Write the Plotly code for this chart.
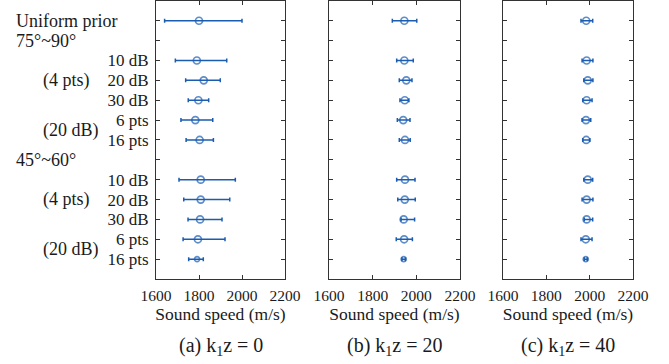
import plotly.graph_objects as go

# Row labels (top to bottom); rows 2 and 8 are group headers without data
rows = list(range(1, 14))
row_tick_text = ["", "", "10 dB", "20 dB", "30 dB", "6 pts", "16 pts",
                 "", "10 dB", "20 dB", "30 dB", "6 pts", "16 pts"]

# Estimated sound speed (m/s): centre, lower and upper bound of each interval
k0_mean = [1800, None, 1790, 1822, 1797, 1783, 1803, None, 1808, 1808, 1805, 1795, 1791]
k0_low  = [1640, None, 1690, 1738, 1750, 1716, 1740, None, 1707, 1729, 1749, 1726, 1752]
k0_high = [2000, None, 1929, 1899, 1845, 1864, 1867, None, 1969, 1943, 1907, 1921, 1820]

k20_mean = [1945, None, 1945, 1954, 1947, 1940, 1948, None, 1948, 1947, 1942, 1944, 1942]
k20_low  = [1890, None, 1910, 1922, 1925, 1913, 1922, None, 1910, 1915, 1930, 1908, 1934]
k20_high = [2002, None, 1986, 1980, 1966, 1971, 1972, None, 1994, 1995, 1992, 1982, 1950]

k40_mean = [1984, None, 1986, 1991, 1986, 1983, 1984, None, 1991, 1986, 1986, 1982, 1982]
k40_low  = [1960, None, 1965, 1973, 1968, 1965, 1968, None, 1973, 1965, 1975, 1960, 1975]
k40_high = [2014, None, 2015, 2015, 2011, 2005, 2001, None, 2014, 2015, 2014, 2011, 1989]

panels = [
    ("(a) k<sub>1</sub>z = 0", k0_mean, k0_low, k0_high),
    ("(b) k<sub>1</sub>z = 20", k20_mean, k20_low, k20_high),
    ("(c) k<sub>1</sub>z = 40", k40_mean, k40_low, k40_high),
]

x_ticks = [1600, 1800, 2000, 2200]
x_title = "Sound speed (m/s)"

W, H = 669, 364
domains = [(156 / W, 285 / W), (329 / W, 460 / W), (503 / W, 633 / W)]

BLUE = "#1a5cb0"
FRAME = "#333333"
TEXT = "#1a1a1a"
FONT = "Liberation Serif"

fig = go.Figure()

for i, (caption, mean, low, high) in enumerate(panels):
    n = i + 1
    xa = "x" if n == 1 else f"x{n}"
    ya = "y" if n == 1 else f"y{n}"
    plus = [None if m is None else h - m for m, h in zip(mean, high)]
    minus = [None if m is None else m - l for m, l in zip(mean, low)]
    sizes = [7] * 12 + [5]
    fig.add_trace(go.Scatter(
        x=mean, y=rows, xaxis=xa, yaxis=ya, mode="markers",
        marker=dict(symbol="circle-open", size=sizes, color=BLUE,
                    line=dict(width=1.7, color=BLUE)),
        error_x=dict(type="data", symmetric=False, array=plus, arrayminus=minus,
                     color=BLUE, thickness=1.5, width=2),
        showlegend=False, hoverinfo="x+y",
    ))
    axis_common = dict(showline=True, linecolor=FRAME, linewidth=1.2, mirror="ticks",
                       ticks="inside", ticklen=4, tickcolor=FRAME, tickwidth=1,
                       showgrid=False, zeroline=False)
    fig.layout[f"xaxis{'' if n == 1 else n}"] = dict(
        domain=list(domains[i]), range=[1600, 2200], tickvals=x_ticks,
        anchor=ya, tickfont=dict(family=FONT, size=15.5, color=TEXT),
        ticklabelstandoff=2,
        title=dict(text=x_title, standoff=3,
                   font=dict(family=FONT, size=17.5, color=TEXT)),
        **axis_common)
    fig.layout[f"yaxis{'' if n == 1 else n}"] = dict(
        domain=[0.2335, 0.9975], range=[14, 0], tickvals=rows,
        ticktext=row_tick_text if n == 1 else [""] * 13,
        anchor=xa, tickfont=dict(family=FONT, size=17, color=TEXT),
        ticklabelstandoff=3,
        **axis_common)
    fig.add_annotation(text=caption, xref="paper", yref="paper",
                       x=(domains[i][0] + domains[i][1]) / 2, y=3 / H,
                       xanchor="center", yanchor="bottom", showarrow=False,
                       font=dict(family=FONT, size=20, color=TEXT))

# Group labels to the left of the first panel
group_labels = [
    ("Uniform prior", 14 / W, 1, "left"),
    ("75°~90°", 14 / W, 2, "left"),
    ("(4 pts)", 66 / W, 4, "center"),
    ("(20 dB)", 71 / W, 6.5, "center"),
    ("45°~60°", 14 / W, 8, "left"),
    ("(4 pts)", 66 / W, 10, "center"),
    ("(20 dB)", 71 / W, 12.5, "center"),
]
for text, xp, yv, anchor in group_labels:
    fig.add_annotation(text=text, xref="paper", yref="y", x=xp, y=yv,
                       xanchor=anchor, yanchor="middle", showarrow=False,
                       font=dict(family=FONT, size=18, color=TEXT))

fig.update_layout(template="none", width=W, height=H,
                  margin=dict(l=0, r=0, t=0, b=0),
                  plot_bgcolor="white", paper_bgcolor="white",
                  font=dict(family=FONT, color=TEXT))

fig.write_html("out.html")
